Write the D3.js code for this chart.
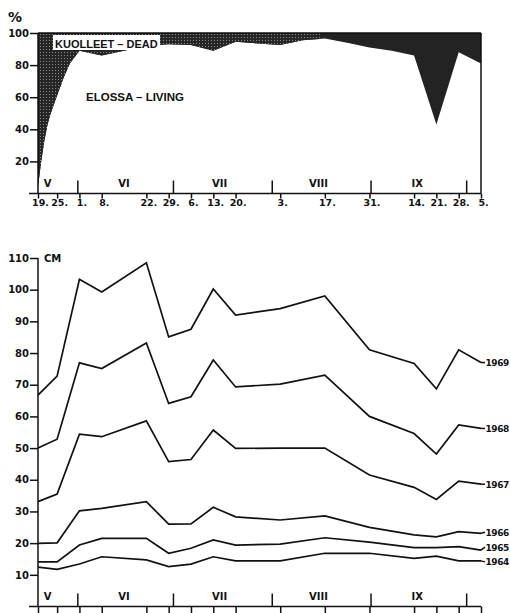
<!DOCTYPE html>
<html><head><meta charset="utf-8">
<script src="https://cdn.jsdelivr.net/npm/d3@7"></script>
<style>
html,body{margin:0;padding:0;background:#fff;}
svg{display:block;}
text{font-family:"DejaVu Sans",sans-serif;font-weight:bold;fill:#111;}
</style></head>
<body>
<script>
// ---- DATA ----
const livingDates = ["1969-05-19","1969-05-20","1969-05-21","1969-05-22","1969-05-23","1969-05-25","1969-05-27","1969-05-29","1969-06-01","1969-06-08","1969-06-15","1969-06-22","1969-06-29","1969-07-06","1969-07-13","1969-07-20","1969-07-27","1969-08-03","1969-08-10","1969-08-17","1969-08-24","1969-08-31","1969-09-07","1969-09-14","1969-09-21","1969-09-28","1969-10-05"];
const livingPct = [4,20,33,43,50,61,72,81,89,86,89,92,93,92.5,89,94.5,93.5,92.5,95.5,96.5,94,91,89,86,43,88,81];

const obsDates = ["1969-05-19","1969-05-25","1969-06-01","1969-06-08","1969-06-22","1969-06-29","1969-07-06","1969-07-13","1969-07-20","1969-08-03","1969-08-17","1969-08-31","1969-09-14","1969-09-21","1969-09-28","1969-10-05"];
const years = ["1964","1965","1966","1967","1968","1969"];
const s1964 = [12.4,11.7,13.4,15.7,14.7,12.6,13.4,15.7,14.4,14.4,16.8,16.8,15.2,15.9,14.4,14.4];
const s1965 = [14.1,14.1,19.4,21.5,21.5,16.8,18.4,21.0,19.4,19.7,21.7,20.3,18.6,18.6,18.9,17.8];
const s1966 = [19.9,20.1,30.2,31.0,33.1,26.0,26.1,31.3,28.3,27.3,28.6,25.0,22.6,22.0,23.6,23.1];
const s1967 = [33.1,35.5,54.4,53.6,58.6,45.7,46.4,55.7,49.9,50.0,50.0,41.5,37.6,33.8,39.6,38.6];
const s1968 = [50.0,52.8,76.9,75.1,83.2,64.1,66.2,77.8,69.3,70.2,73.0,60.0,54.6,48.1,57.3,56.2];
const s1969 = [66.7,72.7,103.3,99.3,108.5,85.1,87.5,100.2,92.0,94.0,98.0,81.0,76.7,68.7,81.0,77.0];
const seriesValues = [s1964,s1965,s1966,s1967,s1968,s1969];

const monthBounds = ["1969-05-31T12:00","1969-06-30T12:00","1969-07-31T12:00","1969-08-31T12:00","1969-09-30T12:00"];
const monthNames = ["V","VI","VII","VIII","IX"];
const monthLabelDates = ["1969-05-22","1969-06-15","1969-07-15","1969-08-15","1969-09-15"];
const pctTicks = [20,40,60,80,100];
const cmTicks = [10,20,30,40,50,60,70,80,90,100,110];
const labelDy = {"1964":1,"1965":-3,"1966":-1,"1967":0,"1968":0,"1969":0};

// ---- SETUP ----
const W = 510, H = 613;
const parse = s => new Date(s);
const svg = d3.select("body").append("svg").attr("width", W).attr("height", H);

const x = d3.scaleTime().domain([parse("1969-05-19"), parse("1969-10-05")]).range([38, 481]);
const yTop = d3.scaleLinear().domain([0, 100]).range([193.5, 33]);
const yBot = d3.scaleLinear().domain([0, 110]).range([606.5, 258]);

// pattern for stippled area
const defs = svg.append("defs");
const pat = defs.append("pattern").attr("id","stip").attr("patternUnits","userSpaceOnUse").attr("width",3).attr("height",3);
pat.append("rect").attr("width",3).attr("height",3).attr("fill","#262626");
pat.append("rect").attr("x",1).attr("y",1).attr("width",1).attr("height",1).attr("fill","#8a8a8a");
defs.append("clipPath").attr("id","leftClip").append("rect").attr("x",0).attr("y",0).attr("width",320).attr("height",200);
defs.append("clipPath").attr("id","boxClip").append("rect").attr("x",53).attr("y",34).attr("width",107).attr("height",16);

// ---- TOP CHART ----
const living = livingDates.map((d,i)=>({date:parse(d), v:livingPct[i]}));
const deadArea = d3.area().x(d=>x(d.date)).y0(yTop(100)).y1(d=>yTop(d.v));
svg.append("path").datum(living).attr("d", deadArea).attr("fill","#232323");
svg.append("path").datum(living).attr("d", deadArea).attr("fill","url(#stip)").attr("clip-path","url(#leftClip)");
svg.append("line").attr("x1",x.range()[0]).attr("x2",x.range()[1]).attr("y1",yTop(100)).attr("y2",yTop(100)).attr("stroke","#111").attr("stroke-width",1.5);
svg.append("line").attr("x1",x.range()[1]).attr("x2",x.range()[1]).attr("y1",yTop(100)).attr("y2",yTop(0)).attr("stroke","#111").attr("stroke-width",1.5);

svg.append("rect").attr("x",53).attr("y",35).attr("width",107).attr("height",15).attr("fill","#fff");
svg.append("text").attr("x",55).attr("y",47.5).attr("font-size",11).style("font-family","'Liberation Sans', Arial, sans-serif").attr("clip-path","url(#boxClip)").text("KUOLLEET – DEAD");
svg.append("text").attr("x",86).attr("y",101).attr("font-size",11.5).style("font-family","'Liberation Sans', Arial, sans-serif").text("ELOSSA – LIVING");
svg.append("text").attr("x",8).attr("y",22).attr("font-size",14).text("%");

const yAxTop = svg.append("g").attr("transform","translate(38,0)")
  .call(d3.axisLeft(yTop).tickValues(pctTicks).tickSize(8).tickPadding(1).tickFormat(d=>d));
yAxTop.select(".domain").remove();
svg.append("line").attr("x1",38).attr("x2",38).attr("y1",yTop(100)).attr("y2",yTop(0)).attr("stroke","#111").attr("stroke-width",1.5);

const tickDates = obsDates.map(parse);
const xAxTop = svg.append("g").attr("transform",`translate(0,${yTop(0)})`)
  .call(d3.axisBottom(x).tickValues(tickDates).tickSize(5).tickPadding(1).tickFormat(d=>d.getDate()+"."));
xAxTop.select(".domain").remove();
svg.append("line").attr("x1",29).attr("x2",x.range()[1]).attr("y1",yTop(0)).attr("y2",yTop(0)).attr("stroke","#111").attr("stroke-width",1.5);
xAxTop.selectAll(".tick text").attr("dx",2);
svg.selectAll(".mbTop").data(monthBounds).join("line").attr("class","mbTop")
  .attr("x1",d=>x(parse(d))).attr("x2",d=>x(parse(d))).attr("y1",yTop(0)-13).attr("y2",yTop(0))
  .attr("stroke","#111").attr("stroke-width",1.5);
svg.selectAll(".mlTop").data(monthNames).join("text").attr("class","mlTop")
  .attr("x",(d,i)=>x(parse(monthLabelDates[i]))).attr("y",yTop(0)-7).attr("text-anchor","middle").attr("font-size",10).text(d=>d);

// ---- BOTTOM CHART ----
const yAxBot = svg.append("g").attr("transform","translate(38,0)")
  .call(d3.axisLeft(yBot).tickValues(cmTicks).tickSize(8).tickPadding(1).tickFormat(d=>d));
yAxBot.select(".domain").remove();
svg.append("line").attr("x1",38).attr("x2",38).attr("y1",yBot(110)).attr("y2",yBot(0)).attr("stroke","#111").attr("stroke-width",1.5);
svg.append("text").attr("x",44).attr("y",yBot(110)+4).attr("font-size",10).text("CM");

const xAxBot = svg.append("g").attr("transform",`translate(0,${yBot(0)})`)
  .call(d3.axisBottom(x).tickValues(tickDates).tickSize(7).tickFormat(""));
xAxBot.select(".domain").remove();
svg.append("line").attr("x1",29).attr("x2",x.range()[1]).attr("y1",yBot(0)).attr("y2",yBot(0)).attr("stroke","#111").attr("stroke-width",1.5);
svg.selectAll(".mbBot").data(monthBounds).join("line").attr("class","mbBot")
  .attr("x1",d=>x(parse(d))).attr("x2",d=>x(parse(d))).attr("y1",yBot(0)-13).attr("y2",yBot(0))
  .attr("stroke","#111").attr("stroke-width",1.5);
svg.selectAll(".mlBot").data(monthNames).join("text").attr("class","mlBot")
  .attr("x",(d,i)=>x(parse(monthLabelDates[i]))).attr("y",yBot(0)-7).attr("text-anchor","middle").attr("font-size",10).text(d=>d);

svg.selectAll(".tick line").attr("stroke","#111").attr("stroke-width",1.5);
svg.selectAll(".tick text").attr("font-size",10).attr("fill","#111").style("font-family","'DejaVu Sans', sans-serif").style("font-weight","bold");
xAxTop.selectAll(".tick text").attr("font-size",9.5);

const line = d3.line().x(d=>x(d.date)).y(d=>yBot(d.v));
years.forEach((yr,k)=>{
  const pts = obsDates.map((d,i)=>({date:parse(d), v:seriesValues[k][i]}));
  svg.append("path").datum(pts).attr("d",line).attr("fill","none").attr("stroke","#111").attr("stroke-width",1.7).attr("stroke-linejoin","miter");
  const last = pts[pts.length-1];
  const ly = yBot(last.v)+labelDy[yr];
  svg.append("line").attr("x1",x(last.date)).attr("x2",x(last.date)+4).attr("y1",yBot(last.v)).attr("y2",ly).attr("stroke","#111").attr("stroke-width",1.5);
  svg.append("text").attr("x",x(last.date)+4.5).attr("y",ly+3.4).attr("font-size",9).attr("letter-spacing",-0.4).text(yr);
});
</script>
</body></html>
